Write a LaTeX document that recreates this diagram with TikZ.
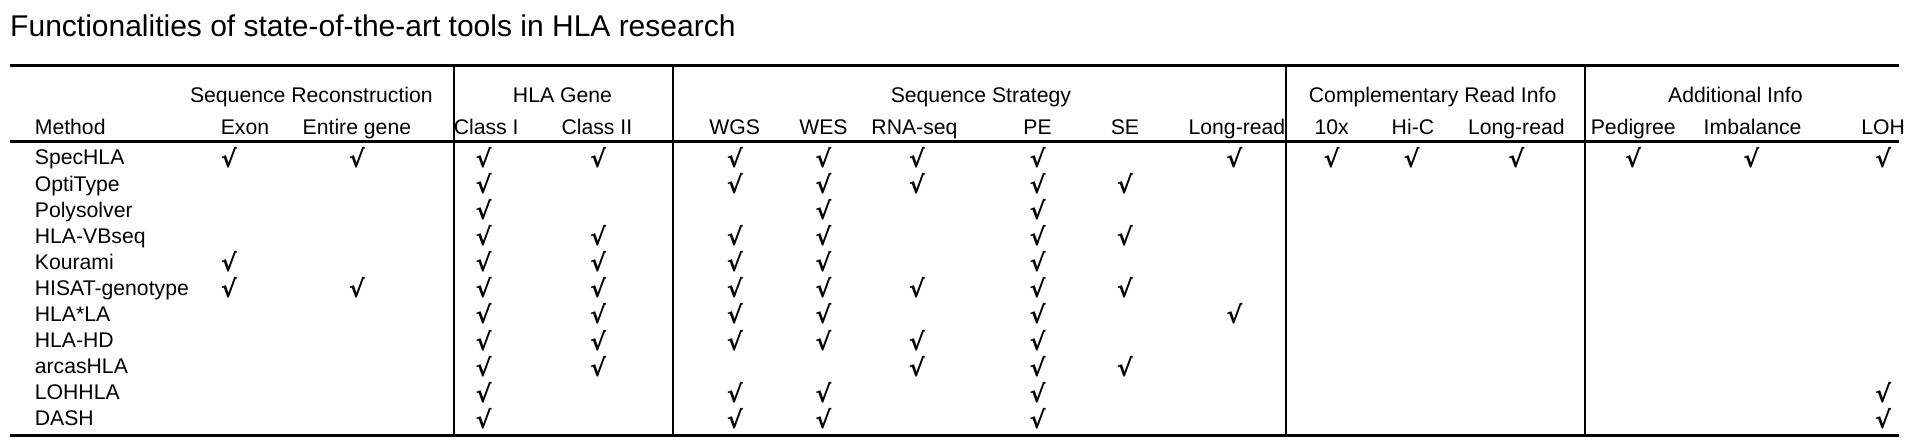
\documentclass[tikz,border=0pt]{standalone}
\usepackage{fontspec}
\setmainfont{Liberation Sans}
\newfontfamily\ckfont{DejaVu Sans}
\begin{document}
\begin{tikzpicture}[x=0.6154pt,y=-0.6154pt,
  hd/.style={font=\fontsize{10.6}{12}\selectfont,inner sep=0pt,anchor=base},
  ck/.style={font=\ckfont\fontsize{12}{12}\selectfont\bfseries,inner sep=0pt,anchor=base}]
\useasboundingbox (0,0) rectangle (1560,357.5);
\node[anchor=base west,inner sep=0pt,font=\fontsize{15}{17}\selectfont] (title) at (8,30) {Functionalities of state-of-the-art tools in HLA research};
\draw[line width=1.5pt] (8,53) -- (1543,53);
\draw[line width=1.5pt] (8,115) -- (1543,115);
\draw[line width=1.5pt] (8,354) -- (1543,354);
\foreach \x in {369,547,1045,1288} \draw[line width=0.8pt] (\x,53) -- (\x,354);
\node[hd] (g1) at (253,83) {Sequence Reconstruction};
\node[hd] (g2) at (457,83) {HLA Gene};
\node[hd] (g3) at (797,83) {Sequence Strategy};
\node[hd] (g4) at (1164,83) {Complementary Read Info};
\node[hd] (g5) at (1410,83) {Additional Info};
\node[hd,anchor=base west] (m) at (28,109) {Method};
\foreach \x/\t [count=\i] in {199/Exon,290/Entire gene,395/Class I,485/Class II,597/WGS,669/WES,743/RNA-seq,843/PE,914/SE,1005/Long-read,1082/10x,1148/Hi-C,1232/Long-read,1327/Pedigree,1424/Imbalance,1530/LOH}
  \node[hd] (h\i) at (\x,109) {\t};
\def\cx#1{\ifcase#1\or186\or290\or393\or486\or597\or669\or745\or843\or914\or1003\or1082\or1147\or1232\or1327\or1423\or1530\fi}
\foreach \name/\cols [count=\r] in {
 SpecHLA/{1,2,3,4,5,6,7,8,10,11,12,13,14,15,16},
 OptiType/{3,5,6,7,8,9},
 Polysolver/{3,6,8},
 HLA-VBseq/{3,4,5,6,8,9},
 Kourami/{1,3,4,5,6,8},
 HISAT-genotype/{1,2,3,4,5,6,7,8,9},
 HLA*LA/{3,4,5,6,8,10},
 HLA-HD/{3,4,5,6,7,8},
 arcasHLA/{3,4,7,8,9},
 LOHHLA/{3,5,6,8,16},
 DASH/{3,5,6,8,16}} {
  \pgfmathsetmacro\yy{134+21.2*(\r-1)}
  \node[hd,anchor=base west] (r\r) at (28,\yy) {\name};
  \foreach \c in \cols {
    \pgfmathsetmacro\xx{\cx{\c}}
    \node[ck] (c\r-\c) at (\xx,\yy+2) {√};
  }
}
\end{tikzpicture}
\end{document}
